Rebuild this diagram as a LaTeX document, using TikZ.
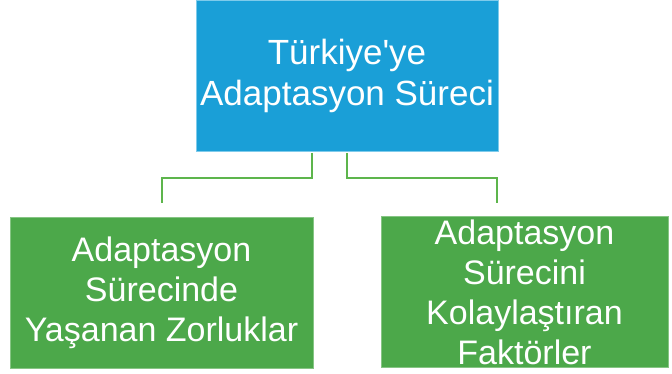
\documentclass[tikz,border=0pt]{standalone}
\usepackage{fontspec}
\setmainfont{Liberation Sans}
\definecolor{topblue}{HTML}{1A9FD7}
\definecolor{topedge}{HTML}{7FCBEB}
\definecolor{boxgreen}{HTML}{4CA84A}
\definecolor{boxedge}{HTML}{86C584}
\definecolor{linkgreen}{HTML}{5DB54C}
\begin{document}
\begin{tikzpicture}[x=1pt,y=-1pt,
  topbox/.style={fill=topblue,draw=topedge,line width=0.8pt,text=white,align=center,
    minimum width=302pt,minimum height=151pt,inner sep=0pt,font=\fontsize{35}{41}\selectfont},
  subbox/.style={fill=boxgreen,draw=boxedge,line width=0.8pt,text=white,align=center,
    minimum height=151pt,inner sep=0pt,font=\fontsize{34}{40}\selectfont},
  link/.style={draw=linkgreen,line width=2pt}]
\useasboundingbox (0,0) rectangle (672,374);
\node[topbox] (top) at (347,75.5) {Türkiye\textquotesingle ye\\Adaptasyon Süreci};
\node[subbox,minimum width=303pt] (zor) at (161.5,292.5) {Adaptasyon\\Sürecinde\\Yaşanan Zorluklar};
\node[subbox,minimum width=287pt] (kol) at (524.5,292) {Adaptasyon\\Sürecini\\Kolaylaştıran\\Faktörler};
% connectors
\coordinate (zs) at (312,153);
\coordinate (ze) at (162,203);
\coordinate (ks) at (347,153);
\coordinate (ke) at (497,203);
\draw[link] (zs) -- (312,178) -| (ze);
\draw[link] (ks) -- (347,178) -| (ke);
\end{tikzpicture}
\end{document}
